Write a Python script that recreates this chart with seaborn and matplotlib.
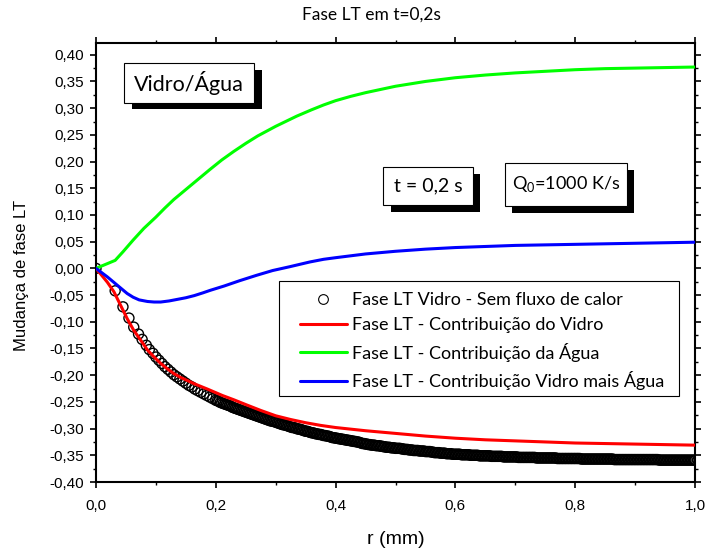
import numpy as np
import pandas as pd
import matplotlib
matplotlib.use("Agg")
import matplotlib.pyplot as plt
from matplotlib.patches import Rectangle
from matplotlib.lines import Line2D
from matplotlib.ticker import MultipleLocator, FuncFormatter
import seaborn as sns

# ---------------------------------------------------------------- data
# Fase LT do vidro sem fluxo de calor (marcadores).
# Amostragem esparsa perto de r = 0 e densa a partir de r = 0,2 mm.
r_inicio = [
    0.000, 0.032, 0.045, 0.055, 0.063, 0.071, 0.077, 0.084, 0.089, 0.095,
    0.100, 0.105, 0.110, 0.115, 0.120, 0.125, 0.130, 0.135, 0.140, 0.145,
    0.150, 0.155, 0.160, 0.165, 0.170, 0.175, 0.180, 0.185, 0.190, 0.195,
]
fase_inicio = [
    0.000, -0.042, -0.072, -0.093, -0.110, -0.123, -0.133, -0.144, -0.152, -0.159,
    -0.166, -0.172, -0.178, -0.184, -0.189, -0.194, -0.199, -0.203, -0.207, -0.211,
    -0.215, -0.219, -0.222, -0.226, -0.229, -0.232, -0.235, -0.238, -0.241, -0.244,
]
r_denso = list(np.round(np.arange(0.200, 1.00001, 0.0025), 4))
fase_denso = (
    [-0.247, -0.248, -0.249, -0.251, -0.252, -0.253, -0.254, -0.255, -0.256, -0.257,
     -0.258, -0.260, -0.261, -0.262, -0.263, -0.264, -0.265, -0.266, -0.267, -0.268]
    + [-0.269, -0.270, -0.271, -0.272, -0.273, -0.274, -0.275, -0.276, -0.277, -0.278,
       -0.279, -0.280, -0.281, -0.282, -0.283, -0.284, -0.285, -0.286, -0.286, -0.287]
    + [-0.288, -0.289, -0.290, -0.291, -0.292, -0.293, -0.293, -0.294, -0.295, -0.296,
       -0.297, -0.298, -0.298, -0.299, -0.300, -0.301, -0.301, -0.302, -0.303, -0.304]
    + [-0.305, -0.305, -0.306, -0.307, -0.308, -0.308, -0.309, -0.310, -0.310, -0.311,
       -0.311, -0.312, -0.313, -0.313, -0.314, -0.314, -0.315, -0.316, -0.317, -0.317]
    + [-0.318, -0.318, -0.319, -0.319, -0.320, -0.320, -0.321, -0.321, -0.322, -0.322,
       -0.323, -0.323, -0.324, -0.324, -0.325, -0.325, -0.326, -0.327, -0.328, -0.328]
    + [-0.329, -0.329, -0.330, -0.330, -0.331, -0.331, -0.331, -0.332, -0.332, -0.332,
       -0.333, -0.333, -0.334, -0.334, -0.335, -0.335, -0.335, -0.336, -0.336, -0.336]
    + [-0.337, -0.337, -0.337, -0.337, -0.338, -0.338, -0.339, -0.339, -0.339, -0.340,
       -0.340, -0.340, -0.341, -0.341, -0.341, -0.341, -0.342, -0.342, -0.342, -0.342]
    + [-0.343, -0.343, -0.343, -0.343, -0.344, -0.344, -0.345, -0.345, -0.345, -0.345,
       -0.346, -0.346, -0.346, -0.346, -0.347, -0.347, -0.347, -0.347, -0.348, -0.348]
    + [-0.348, -0.348, -0.348, -0.348, -0.349, -0.349, -0.349, -0.349, -0.349, -0.349,
       -0.350, -0.350, -0.350, -0.350, -0.350, -0.350, -0.351, -0.351, -0.351, -0.351]
    + [-0.351, -0.351, -0.351, -0.351, -0.352, -0.352, -0.352, -0.352, -0.352, -0.352,
       -0.352, -0.352, -0.353, -0.353, -0.353, -0.353, -0.353, -0.353, -0.353, -0.353]
    + [-0.353, -0.353] + [-0.354] * 12 + [-0.355] * 6
    + [-0.355] * 8 + [-0.356] * 12
    + [-0.356] * 4 + [-0.357] * 16
    + [-0.357] * 6 + [-0.358] * 14
    + [-0.358] * 16 + [-0.359] * 4
    + [-0.359] * 21
)
r_circ = r_inicio + r_denso
fase_sem_fluxo = fase_inicio + fase_denso

# Contribuição do vidro
r_vidro = [0.0, 0.019, 0.030, 0.041, 0.052, 0.063, 0.075, 0.086, 0.097, 0.108,
           0.119, 0.130, 0.141, 0.164, 0.186, 0.211, 0.23, 0.25, 0.275, 0.30,
           0.325, 0.35, 0.375, 0.40, 0.45, 0.50, 0.55, 0.60, 0.65, 0.70,
           0.75, 0.80, 0.85, 0.90, 0.95, 1.00]
fase_vidro = [0.0, -0.026, -0.044, -0.069, -0.094, -0.116, -0.135, -0.153, -0.166, -0.178,
              -0.188, -0.197, -0.204, -0.216, -0.226, -0.238, -0.246, -0.255, -0.266, -0.276,
              -0.283, -0.289, -0.294, -0.298, -0.304, -0.309, -0.314, -0.318, -0.321, -0.323,
              -0.325, -0.327, -0.328, -0.329, -0.330, -0.331]

# Contribuição da água
r_agua = [0.0, 0.032, 0.045, 0.062, 0.08, 0.10, 0.115, 0.13, 0.145, 0.16,
          0.175, 0.19, 0.21, 0.23, 0.25, 0.27, 0.30, 0.335, 0.36, 0.38,
          0.40, 0.425, 0.45, 0.475, 0.50, 0.55, 0.60, 0.65, 0.70, 0.75,
          0.80, 0.85, 0.90, 0.95, 1.00]
fase_agua = [0.0, 0.015, 0.031, 0.053, 0.075, 0.096, 0.113, 0.129, 0.143, 0.157,
             0.171, 0.185, 0.203, 0.219, 0.234, 0.248, 0.266, 0.285, 0.297, 0.306,
             0.314, 0.322, 0.329, 0.335, 0.341, 0.350, 0.357, 0.362, 0.366, 0.369,
             0.372, 0.374, 0.375, 0.376, 0.377]

# Contribuição vidro mais água
r_total = [0.0, 0.019, 0.036, 0.052, 0.062, 0.072, 0.086, 0.097, 0.108, 0.122,
           0.136, 0.15, 0.164, 0.178, 0.191, 0.214, 0.24, 0.268, 0.295, 0.323,
           0.357, 0.38, 0.40, 0.45, 0.50, 0.55, 0.60, 0.65, 0.70, 0.80,
           0.90, 1.00]
fase_total = [0.0, -0.016, -0.032, -0.047, -0.054, -0.059, -0.062, -0.063, -0.063, -0.061,
              -0.058, -0.055, -0.051, -0.046, -0.041, -0.033, -0.023, -0.013, -0.004, 0.003,
              0.012, 0.017, 0.020, 0.027, 0.032, 0.036, 0.039, 0.041, 0.043, 0.045,
              0.047, 0.049]

legend_labels = [
    "Fase LT Vidro - Sem fluxo de calor",
    "Fase LT - Contribuição do Vidro",
    "Fase LT - Contribuição da Água",
    "Fase LT - Contribuição Vidro mais Água",
]
line_colors = ["#ff0000", "#00ff00", "#0000ff"]

# ---------------------------------------------------------------- style
sns.set_theme(style="ticks")
plt.rcParams["font.family"] = ["Liberation Sans", "DejaVu Sans"]
plt.rcParams.update({
    "text.color": "black", "axes.labelcolor": "black",
    "xtick.color": "black", "ytick.color": "black",
    "axes.edgecolor": "black", "axes.linewidth": 1.5,
    "mathtext.fontset": "custom", "mathtext.rm": "Lato",
})
CAL = ["Lato", "DejaVu Sans"]

fig = plt.figure(figsize=(7.08, 5.54), dpi=100)
ax = fig.add_axes([96 / 708, 1 - 482 / 554, 599 / 708, 439 / 554])

# open markers first, curves on top
sns.scatterplot(x=r_circ, y=fase_sem_fluxo, ax=ax, marker="o", s=52,
                facecolor="none", edgecolor="black", linewidth=1.0,
                zorder=2, legend=False)
for rr, ff, col in zip([r_vidro, r_agua, r_total],
                       [fase_vidro, fase_agua, fase_total], line_colors):
    sns.lineplot(x=rr, y=ff, ax=ax, color=col, linewidth=2.2,
                 estimator=None, sort=False, zorder=3)

ax.set_xlim(0, 1.0)
ax.set_ylim(-0.40, 0.422)

ax.xaxis.set_major_locator(MultipleLocator(0.2))
ax.xaxis.set_minor_locator(MultipleLocator(0.1))
ax.yaxis.set_major_locator(MultipleLocator(0.05))
ax.yaxis.set_minor_locator(MultipleLocator(0.025))


def _fmt(dec):
    def f(v, pos):
        if abs(v) < 1e-9:
            v = 0.0
        return f"{v:.{dec}f}".replace(".", ",")
    return FuncFormatter(f)


ax.xaxis.set_major_formatter(_fmt(1))
ax.yaxis.set_major_formatter(_fmt(2))
ax.tick_params(which="both", direction="out", top=True, right=True,
               labeltop=False, labelright=False, labelsize=11)
ax.tick_params(which="major", length=4.5, width=1.2, pad=4)
ax.tick_params(axis="x", which="major", pad=8)
ax.tick_params(which="minor", length=2.5, width=1.0)
for sp in ax.spines.values():
    sp.set_linewidth(1.5)

ax.set_xlabel("r (mm)", fontsize=14)
ax.set_ylabel("Mudança de fase LT", fontsize=12)
ax.xaxis.label.set_va("center")
ax.yaxis.label.set_va("center")
ax.xaxis.set_label_coords(0.5, (482 - 539) / 439)
ax.yaxis.set_label_coords((22 - 96) / 599, 0.47)

fig.text(371 / 708, 1 - 15 / 554, "Fase LT em t=0,2s", ha="center",
         va="center", family=CAL, fontsize=12.5)


# boxed annotations with drop shadow
def shadow_box(x0, y0, x1, y1, dx, dy, text, size):
    ax.add_patch(Rectangle((x0 + dx, y0 + dy), x1 - x0, y1 - y0,
                           transform=ax.transAxes, facecolor="black",
                           edgecolor="black", lw=0, zorder=6))
    ax.add_patch(Rectangle((x0, y0), x1 - x0, y1 - y0,
                           transform=ax.transAxes, facecolor="white",
                           edgecolor="black", lw=0.8, zorder=7))
    ax.text((x0 + x1) / 2, (y0 + y1) / 2, text, transform=ax.transAxes,
            ha="center", va="center", family=CAL, fontsize=size, zorder=8)


shadow_box(0.0472, 0.864, 0.2643, 0.9538, 0.0124, -0.0150, "Vidro/Água", 15.5)
shadow_box(0.4796, 0.631, 0.6289, 0.7169, 0.0122, -0.0153, "t = 0,2 s", 14)
shadow_box(0.6833, 0.6287, 0.887, 0.7273, 0.0112, -0.0166,
           r"Q$_{\mathregular{0}}$=1000 K/s", 13)

# legend
ax.add_patch(Rectangle((0.306, 0.1966), 0.9738 - 0.306, 0.4579 - 0.1966,
                       transform=ax.transAxes, facecolor="white",
                       edgecolor="black", lw=0.8, zorder=6))
handles = [Line2D([], [], ls="none", marker="o", ms=7, mfc="none",
                  mec="black", mew=0.8)]
handles += [Line2D([], [], color=c, lw=2.2) for c in line_colors]
leg = ax.legend(handles, legend_labels, loc="upper left",
                bbox_to_anchor=((300 - 96) / 599, (482 - 292) / 439),
                borderaxespad=0, borderpad=0, frameon=False,
                prop={"family": CAL, "size": 13}, handlelength=2.6,
                handletextpad=0.3, labelspacing=0.52)
leg.set_zorder(9)

fig.savefig("out.png", dpi=100)
